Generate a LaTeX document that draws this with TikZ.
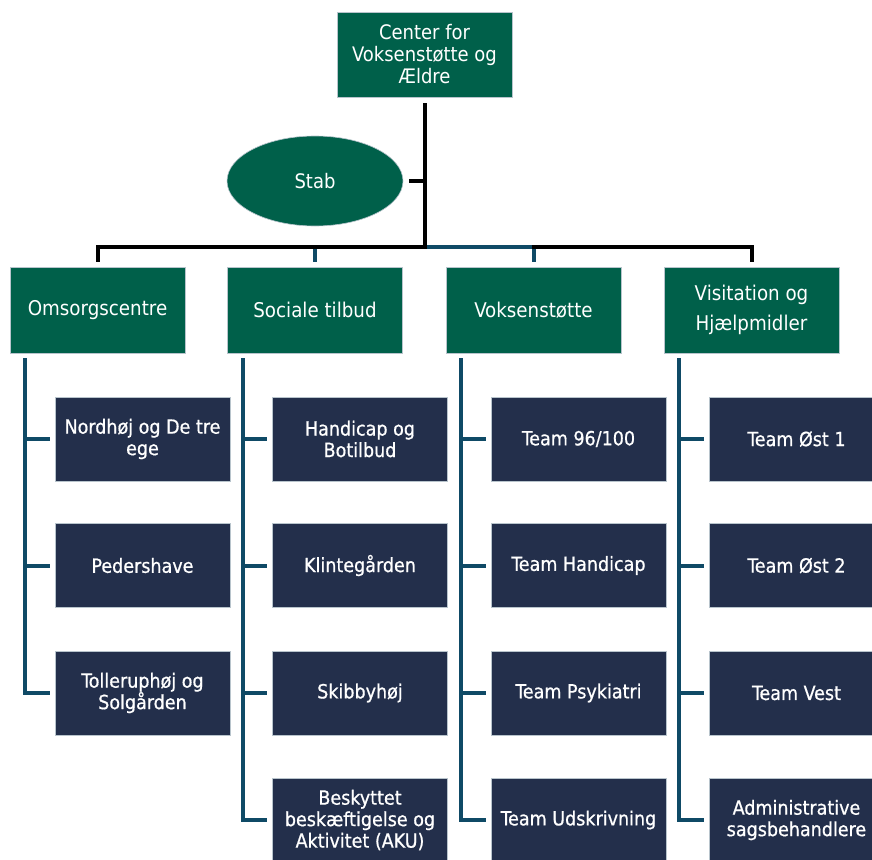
\documentclass[tikz,border=0pt]{standalone}
\usepackage{fontspec}
\setmainfont{DejaVu Sans}
\newfontfamily\condfont{DejaVu Sans Condensed}
\newfontfamily\leaffont[FakeBold=0.7]{DejaVu Sans Condensed}
\usetikzlibrary{shapes.geometric,calc}
\definecolor{boxgreen}{HTML}{00604A}
\definecolor{boxnavy}{HTML}{232F4B}
\definecolor{lineblue}{HTML}{0F4A66}
\definecolor{edgegray}{HTML}{B8C4CC}
\tikzset{
  topbox/.style={rectangle, fill=boxgreen, draw=edgegray, line width=0.6pt, minimum width=175pt, minimum height=85pt, text=white, align=center, inner sep=0pt, font=\condfont\fontsize{20}{22}\selectfont},
  stabshape/.style={ellipse, fill=boxgreen, draw=edgegray, line width=0.6pt, minimum width=176pt, minimum height=90pt, text=white, inner sep=0pt, font=\condfont\fontsize{20}{22}\selectfont},
  midbox/.style={rectangle, fill=boxgreen, draw=edgegray, line width=0.6pt, minimum width=175pt, minimum height=86pt, text=white, align=center, inner sep=0pt, font=\condfont\fontsize{20.3}{30}\selectfont},
  leafbox/.style={rectangle, fill=boxnavy, draw=edgegray, line width=0.6pt, minimum width=175pt, minimum height=84pt, text=white, align=center, inner sep=0pt, font=\leaffont\fontsize{19.5}{21.5}\selectfont},
  blackline/.style={draw=black, line width=4pt},
  blueline/.style={draw=lineblue, line width=4pt},
}
\begin{document}
\begin{tikzpicture}[x=1pt,y=-1pt]
\useasboundingbox (0,0) rectangle (872,859);
\clip (0,0) rectangle (872,859);
% top
\node[topbox] (top) at (424.5,54.5) {Center for\\Voksenstøtte og\\Ældre};
\node[stabshape] (stab) at (315,181) {Stab};
% level 2
\node[midbox] (oms) at (97.5,310) {Omsorgscentre};
\node[midbox] (soc) at (315,310) {Sociale tilbud};
\node[midbox] (vok) at (533.5,310) {Voksenstøtte};
\node[midbox] (vis) at (751.5,310) {Visitation og\\Hjælpmidler};
% level 3 col 1
\node[leafbox] (a1) at (142.5,439) {Nordhøj og De tre\\ege};
\node[leafbox] (a2) at (142.5,565.5) {Pedershave};
\node[leafbox] (a3) at (142.5,693) {Tolleruphøj og\\Solgården};
% col 2
\node[leafbox] (b1) at (360,439) {Handicap og\\Botilbud};
\node[leafbox] (b2) at (360,565.5) {Klintegården};
\node[leafbox] (b3) at (360,693) {Skibbyhøj};
\node[leafbox] (b4) at (360,820) {Beskyttet\\beskæftigelse og\\Aktivitet (AKU)};
% col 3
\node[leafbox] (c1) at (578.5,439) {Team 96/100};
\node[leafbox] (c2) at (578.5,565.5) {Team Handicap};
\node[leafbox] (c3) at (578.5,693) {Team Psykiatri};
\node[leafbox] (c4) at (578.5,820) {Team Udskrivning};
% col 4
\node[leafbox] (d1) at (796.5,439) {Team Øst 1};
\node[leafbox] (d2) at (796.5,565.5) {Team Øst 2};
\node[leafbox] (d3) at (796.5,693) {Team Vest};
\node[leafbox] (d4) at (796.5,820) {Administrative\\sagsbehandlere};
% upper connectors
\coordinate (bus) at (424.5,247);
\path[blueline] (bus) -- (bus -| vok) -- ([yshift=5pt]vok.north);
\path[blueline] (bus -| soc) -- ([yshift=5pt]soc.north);
\path[blackline] ([yshift=-6pt]top.south) -- (bus) -- (bus -| oms) -- ([yshift=5pt]oms.north);
\path[blackline] ([xshift=-2pt]bus -| vok) -- (bus -| vis) -- ([yshift=5pt]vis.north);
\path[blackline] ([xshift=6pt]stab.east) -- (stab.east -| bus);
% column spines
\coordinate (s1) at (25,358);
\coordinate (s2) at (243,358);
\coordinate (s3) at (461,358);
\coordinate (s4) at (679,358);
\foreach \n in {a1,a2,a3} \path[blueline] (s1) |- ([xshift=-5pt]\n.west);
\foreach \n in {b1,b2,b3,b4} \path[blueline] (s2) |- ([xshift=-5pt]\n.west);
\foreach \n in {c1,c2,c3,c4} \path[blueline] (s3) |- ([xshift=-5pt]\n.west);
\foreach \n in {d1,d2,d3,d4} \path[blueline] (s4) |- ([xshift=-5pt]\n.west);
\end{tikzpicture}
\end{document}
